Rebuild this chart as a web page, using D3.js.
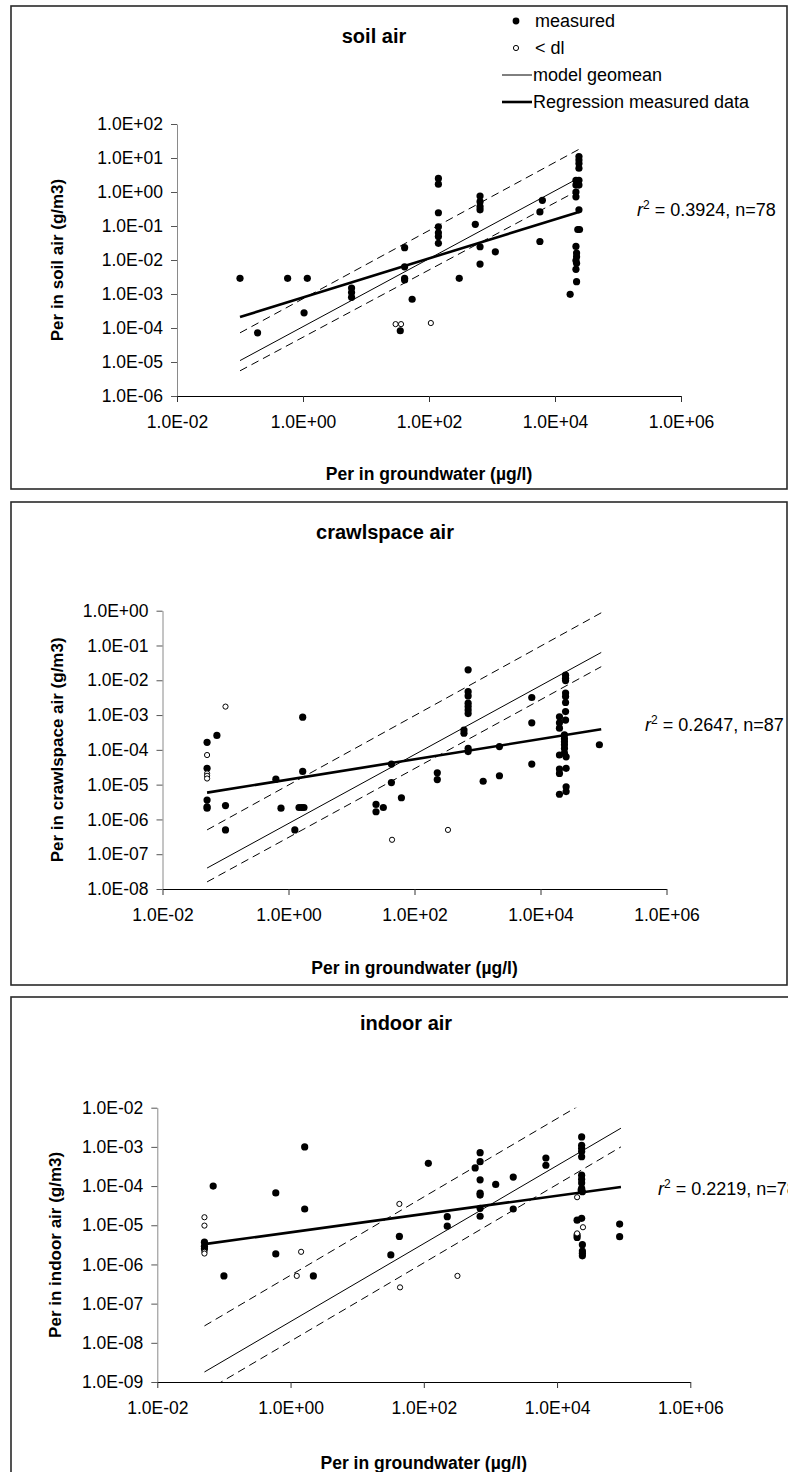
<!DOCTYPE html>
<html>
<head>
<meta charset="utf-8">
<script src="https://cdn.jsdelivr.net/npm/d3@7"></script>
<style>
  body { margin: 0; background: #fff; }
  svg { display: block; font-family: "Liberation Sans", Arial, sans-serif; }
</style>
</head>
<body>
<svg id="chart" width="788" height="1472"></svg>
<script>
// ---- data (x = Per in groundwater ug/l, y = Per in air g/m3) ----

const xTicks = [1e-2, 1e0, 1e2, 1e4, 1e6];

// soil air
const soilMeasured = [
  [0.1, 2.9e-3], [0.19, 7.2e-5], [0.57, 2.9e-3], [1.17, 2.9e-3], [1.04, 2.8e-4],
  [5.9, 1.5e-3], [5.9, 1.1e-3], [5.9, 8e-4],
  [41, 2.3e-2], [41, 6.3e-3], [41, 2.9e-3], [41, 2.6e-3], [54, 7e-4], [35, 8.3e-5],
  [141, 2.5], [141, 1.7], [141, 0.245], [141, 0.095], [141, 0.063], [141, 0.049], [141, 0.031],
  [302, 2.9e-3], [543, 0.112],
  [646, 0.76], [646, 0.52], [646, 0.37], [646, 0.3], [646, 0.0245], [646, 7.6e-3],
  [1130, 0.0174], [6300, 0.57], [5760, 0.26], [5760, 0.035], [17400, 9.8e-4],
  [24000, 11], [24000, 8.7], [24000, 6.9], [24000, 5.0], [21500, 2.2], [24000, 2.2],
  [21500, 1.6], [24000, 1.6], [21500, 1.0], [21500, 0.72], [24000, 0.3], [23000, 0.079],
  [24500, 0.079], [21500, 0.025], [22000, 0.016], [22000, 0.0125], [21500, 9.6e-3],
  [22000, 8e-3], [21500, 5.3e-3], [22000, 2.3e-3]
];
const soilBelowDl = [[29.5, 1.3e-4], [36, 1.3e-4], [107, 1.4e-4]];
const soilModel = [[0.1, 1.1e-5], [24000, 2.6]];
const soilUpper = [[0.1, 7.2e-5], [24000, 18]];
const soilLower = [[0.1, 5.5e-6], [24000, 1.15]];
const soilRegression = [[0.1, 2.1e-4], [24000, 0.26]];

// crawlspace air
const crawlMeasured = [
  [0.051, 1.65e-4], [0.051, 2.95e-5], [0.051, 3.6e-6], [0.051, 2.3e-6], [0.051, 2.1e-6],
  [0.073, 2.6e-4], [0.1, 2.5e-6], [0.1, 5e-7],
  [0.63, 1.44e-5], [0.76, 2.1e-6], [1.26, 5e-7], [1.47, 2.2e-6], [1.62, 2.2e-6], [1.76, 2.2e-6],
  [1.68, 8.7e-4], [1.68, 2.4e-5],
  [24.5, 2.7e-6], [24.5, 1.66e-6], [32, 2.2e-6], [43, 3.9e-5], [43, 1.15e-5], [62, 4.2e-6],
  [230, 2.2e-5], [230, 1.4e-5],
  [710, 0.02], [710, 4.7e-3], [710, 3.55e-3], [710, 2.2e-3], [710, 1.75e-3], [710, 1.4e-3], [710, 1.1e-3],
  [610, 3.7e-4], [610, 3e-4], [710, 1.1e-4], [710, 8.9e-5],
  [1230, 1.25e-5], [2230, 1.24e-4], [2230, 1.8e-5],
  [7270, 3.2e-3], [7270, 6e-4], [7270, 3.9e-5],
  [25000, 1.4e-2], [25000, 1.14e-2], [25000, 9.8e-3], [25000, 4.3e-3], [25000, 3.4e-3],
  [25000, 2.3e-3], [25000, 1.26e-3], [20000, 8.9e-4], [25000, 7.2e-4], [20000, 6e-4],
  [20000, 4.2e-4], [24000, 2.7e-4], [24000, 2.1e-4], [24000, 1.7e-4], [24000, 1.4e-4],
  [24000, 1.1e-4], [24000, 8e-5], [20000, 7.1e-5], [25500, 6.3e-5], [25500, 2.95e-5],
  [20000, 2.8e-5], [20000, 2.1e-5], [25500, 8.7e-6], [25500, 6.3e-6], [20000, 5.3e-6],
  [86000, 1.4e-4]
];
const crawlBelowDl = [
  [0.051, 7.1e-5], [0.051, 2.1e-5], [0.051, 1.8e-5], [0.051, 1.5e-5],
  [0.1, 1.75e-3], [44, 2.6e-7], [340, 5e-7]
];
const crawlModel = [[0.051, 4e-8], [92000, 0.063]];
const crawlUpper = [[0.051, 5e-7], [92000, 0.87]];
const crawlLower = [[0.051, 1.6e-8], [92000, 0.0246]];
const crawlRegression = [[0.051, 5.9e-6], [92000, 3.9e-4]];

// indoor air
const indoorMeasured = [
  [0.051, 3.7e-6], [0.051, 2.9e-6], [0.051, 2.5e-6],
  [0.069, 1e-4], [0.1, 5.1e-7], [0.6, 6.7e-5], [0.6, 1.85e-6], [1.63, 1e-3], [1.63, 2.6e-5], [2.2, 5.1e-7],
  [117, 3.8e-4], [43, 5.2e-6], [32, 1.75e-6], [225, 1.66e-5], [225, 9.5e-6],
  [590, 2.9e-4], [700, 7.1e-4], [700, 4.2e-4], [700, 1.44e-4], [700, 6.6e-5], [700, 5.9e-5],
  [700, 2.7e-5], [700, 1.7e-5],
  [1200, 1.1e-4], [2200, 1.7e-4], [2200, 2.6e-5], [6800, 5.2e-4], [6800, 3.4e-4],
  [23400, 1.8e-3], [23400, 1.1e-3], [23400, 9.2e-4], [23400, 7.6e-4], [23400, 5.6e-4],
  [23400, 1.9e-4], [23400, 1.5e-4], [23400, 1.2e-4], [23400, 8.8e-5], [23000, 7.9e-5], [24000, 7.2e-5],
  [20000, 1.35e-5], [23400, 1.5e-5], [20000, 5.6e-6], [20000, 4.9e-6],
  [24000, 3.2e-6], [24000, 2.2e-6], [24000, 1.94e-6], [24000, 1.66e-6],
  [87000, 1.07e-5], [87000, 5.1e-6]
];
const indoorBelowDl = [
  [0.051, 1.6e-5], [0.051, 9.8e-6], [0.051, 2.1e-6], [0.051, 1.9e-6],
  [43, 3.5e-5], [1.44, 2.1e-6], [1.24, 5.1e-7], [44, 2.6e-7], [320, 5.1e-7],
  [20000, 5.2e-5], [24500, 8.9e-6], [20000, 6.2e-6]
];
const indoorModel = [[0.051, 1.8e-9], [91000, 3e-3]];
const indoorUpper = [[0.051, 2.7e-8], [91000, 4.8e-2]];
const indoorLower = [[0.051, 5.6e-10], [91000, 1e-3]];
const indoorRegression = [[0.051, 3.3e-6], [91000, 9.5e-5]];

const legendItems = ["measured", "< dl", "model geomean", "Regression measured data"];

// ---- layout ----
const panels = [
  {
    title: "soil air", yTitle: "Per in soil air (g/m3)", r2: "0.3924", n: "78",
    yTicks: [1e2, 1e1, 1e0, 1e-1, 1e-2, 1e-3, 1e-4, 1e-5, 1e-6],
    measured: soilMeasured, belowDl: soilBelowDl,
    model: soilModel, upper: soilUpper, lower: soilLower, regression: soilRegression,
    box: [11, 6, 776, 483], plot: [177, 681, 124, 396],
    titleXY: [374, 36], yTitleX: 57, xTitleY: 474, r2XY: [637, 210], legend: true
  },
  {
    title: "crawlspace air", yTitle: "Per in crawlspace air (g/m3)", r2: "0.2647", n: "87",
    yTicks: [1e0, 1e-1, 1e-2, 1e-3, 1e-4, 1e-5, 1e-6, 1e-7, 1e-8],
    measured: crawlMeasured, belowDl: crawlBelowDl,
    model: crawlModel, upper: crawlUpper, lower: crawlLower, regression: crawlRegression,
    box: [11, 502, 776, 483], plot: [162.5, 666.5, 610.7, 889],
    titleXY: [385, 532], yTitleX: 57, xTitleY: 968, r2XY: [645, 725], legend: false
  },
  {
    title: "indoor air", yTitle: "Per in indoor air (g/m3)", r2: "0.2219", n: "78",
    yTicks: [1e-2, 1e-3, 1e-4, 1e-5, 1e-6, 1e-7, 1e-8, 1e-9],
    measured: indoorMeasured, belowDl: indoorBelowDl,
    model: indoorModel, upper: indoorUpper, lower: indoorLower, regression: indoorRegression,
    box: [11, 997, 800, 500], plot: [157.3, 690.3, 1107.7, 1382],
    titleXY: [406, 1023], yTitleX: 55, xTitleY: 1463, r2XY: [658, 1189], legend: false
  }
];

const fmtSci = v => {
  const e = Math.round(Math.log10(v));
  return "1.0E" + (e < 0 ? "-" : "+") + String(Math.abs(e)).padStart(2, "0");
};

const svg = d3.select("#chart");

panels.forEach(function(p, i) {
  const g = svg.append("g");
  const [x0, x1, yTop, yBot] = p.plot;

  const x = d3.scaleLog().domain([1e-2, 1e6]).range([x0, x1]);
  const y = d3.scaleLog()
    .domain([d3.min(p.yTicks), d3.max(p.yTicks)])
    .range([yBot, yTop]);

  // frame
  g.append("rect")
    .attr("x", p.box[0]).attr("y", p.box[1])
    .attr("width", p.box[2]).attr("height", p.box[3])
    .attr("fill", "none").attr("stroke", "#2a2a2a").attr("stroke-width", 1.6);

  // axes
  const yAxis = g.append("g")
    .attr("transform", "translate(" + x0 + ",0)")
    .call(d3.axisLeft(y).tickValues(p.yTicks).tickFormat(fmtSci).tickSize(6).tickSizeOuter(0).tickPadding(8));
  yAxis.select(".domain").attr("stroke", "#8a8a8a");
  yAxis.selectAll(".tick line").attr("stroke", "#555");

  const xAxis = g.append("g")
    .attr("transform", "translate(0," + yBot + ")")
    .call(d3.axisBottom(x).tickValues(xTicks).tickFormat(fmtSci).tickSize(6).tickSizeOuter(0).tickPadding(14));
  xAxis.select(".domain").attr("stroke", "#000");
  xAxis.selectAll(".tick line").attr("stroke", "#333");

  g.selectAll(".tick text")
    .attr("font-size", 17.5)
    .attr("font-family", "'Liberation Sans', Arial, sans-serif")
    .attr("fill", "#000");

  // titles
  g.append("text")
    .attr("x", p.titleXY[0]).attr("y", p.titleXY[1])
    .attr("dy", "0.35em").attr("text-anchor", "middle")
    .attr("font-size", 20).attr("font-weight", "bold")
    .text(p.title);

  g.append("text")
    .attr("transform", "translate(" + p.yTitleX + "," + ((yTop + yBot) / 2) + ") rotate(-90)")
    .attr("dy", "0.35em").attr("text-anchor", "middle")
    .attr("font-size", 17).attr("font-weight", "bold")
    .text(p.yTitle);

  g.append("text")
    .attr("x", (x0 + x1) / 2).attr("y", p.xTitleY)
    .attr("dy", "0.35em").attr("text-anchor", "middle")
    .attr("font-size", 17.5).attr("font-weight", "bold")
    .text("Per in groundwater (\u00b5g/l)");

  // r2 label
  const r2 = g.append("text")
    .attr("x", p.r2XY[0]).attr("y", p.r2XY[1])
    .attr("dy", "0.35em").attr("font-size", 18);
  r2.append("tspan").attr("font-style", "italic").text("r");
  r2.append("tspan").attr("font-size", 12).attr("dy", "-0.6em").text("2");
  r2.append("tspan").attr("dy", "0.4em").text(" = " + p.r2 + ", n=" + p.n);

  // clip to plot area
  const clipId = "clip" + i;
  svg.append("clipPath").attr("id", clipId)
    .append("rect").attr("x", x0).attr("y", yTop)
    .attr("width", x1 - x0).attr("height", yBot - yTop);

  const plotG = g.append("g").attr("clip-path", "url(#" + clipId + ")");

  // points
  plotG.selectAll("circle.m")
    .data(p.measured).enter().append("circle")
    .attr("class", "m")
    .attr("cx", d => x(d[0])).attr("cy", d => y(d[1]))
    .attr("r", 3.6).attr("fill", "#000");

  plotG.selectAll("circle.dl")
    .data(p.belowDl).enter().append("circle")
    .attr("class", "dl")
    .attr("cx", d => x(d[0])).attr("cy", d => y(d[1]))
    .attr("r", 2.6).attr("fill", "#fff").attr("stroke", "#000").attr("stroke-width", 1);

  // lines
  const line = d3.line().x(d => x(d[0])).y(d => y(d[1]));
  [
    { d: p.upper, w: 1, dash: "8,5" },
    { d: p.lower, w: 1, dash: "8,5" },
    { d: p.model, w: 1, dash: null },
    { d: p.regression, w: 2.6, dash: null }
  ].forEach(function(s) {
    plotG.append("path")
      .attr("d", line(s.d))
      .attr("fill", "none").attr("stroke", "#000")
      .attr("stroke-width", s.w)
      .attr("stroke-dasharray", s.dash);
  });

  // legend
  if (p.legend) {
    const lg = g.append("g").attr("font-size", 18);
    const ly = [21, 48, 75, 102];
    legendItems.forEach(function(name, k) {
      const row = lg.append("g").attr("transform", "translate(502," + ly[k] + ")");
      if (k === 0) row.append("circle").attr("cx", 14).attr("r", 3.4).attr("fill", "#000");
      if (k === 1) row.append("circle").attr("cx", 14).attr("r", 2.6).attr("fill", "#fff").attr("stroke", "#000");
      if (k === 2) row.append("line").attr("x1", 0).attr("x2", 30).attr("stroke", "#000").attr("stroke-width", 1);
      if (k === 3) row.append("line").attr("x1", 0).attr("x2", 30).attr("stroke", "#000").attr("stroke-width", 2.6);
      row.append("text").attr("x", k < 2 ? 33 : 31).attr("dy", "0.35em").text(name);
    });
  }
});
</script>
</body>
</html>
